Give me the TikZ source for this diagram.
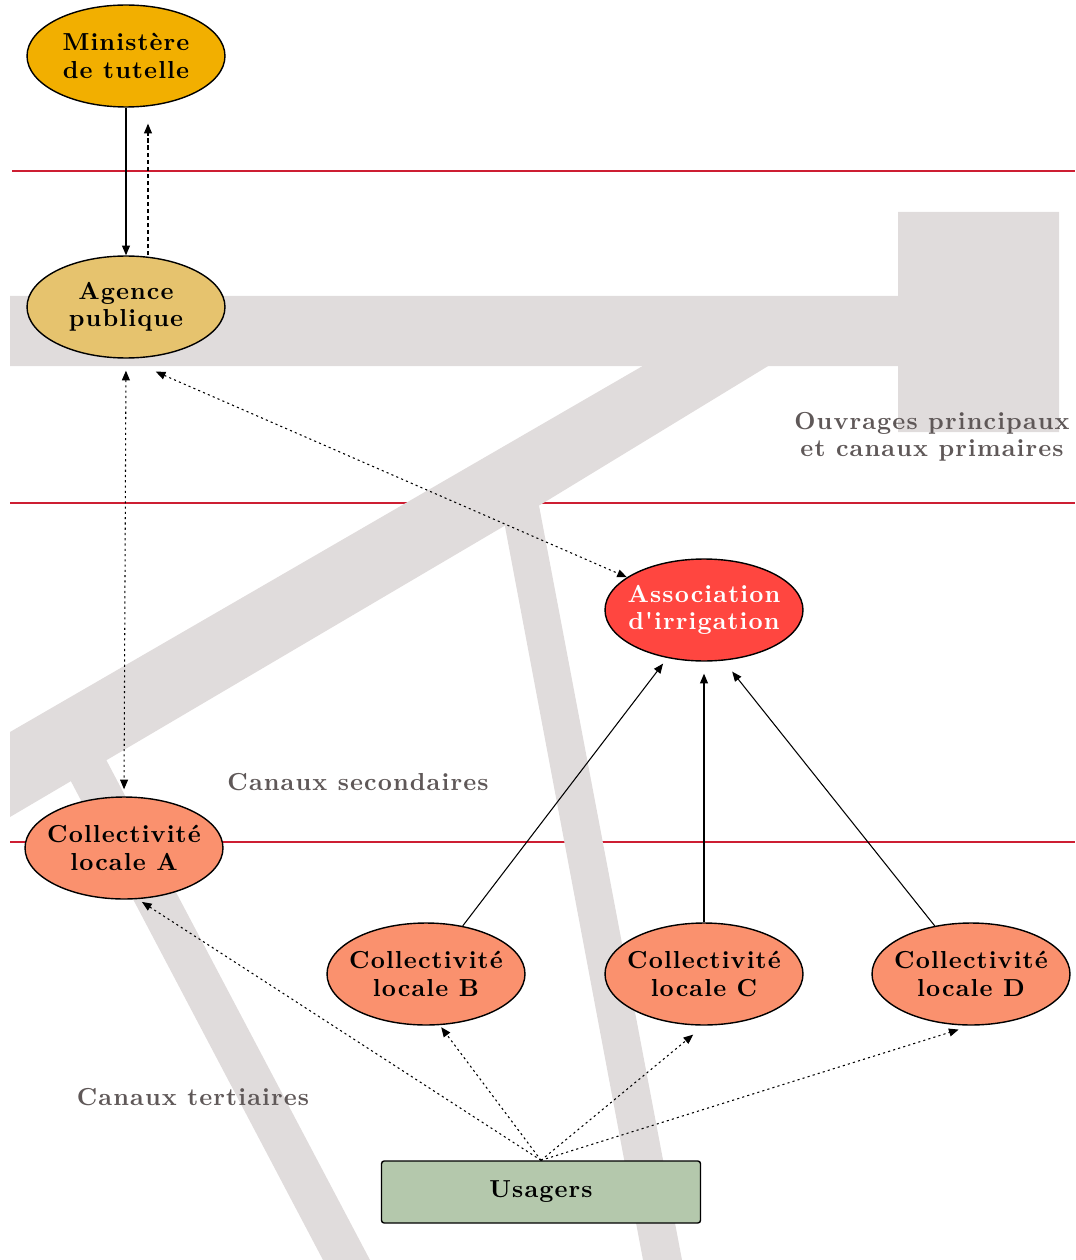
\documentclass[tikz,border=0pt]{standalone}
\usepackage{fontspec}
\usetikzlibrary{arrows.meta,calc,shapes.geometric}
\definecolor{canal}{RGB}{224,220,220}
\definecolor{rouge}{RGB}{205,30,50}
\definecolor{gristexte}{RGB}{95,88,88}
\definecolor{ministere}{RGB}{242,175,0}
\definecolor{agence}{RGB}{230,195,110}
\definecolor{association}{RGB}{255,70,64}
\definecolor{collectivite}{RGB}{250,145,110}
\definecolor{usagers}{RGB}{180,200,172}
\newfontfamily\lettres{lmroman10}[Extension=.otf,UprightFont=*-regular,BoldFont=*-bold,LetterSpace=4.5]
\newcommand{\policeacteur}{\lettres\fontsize{14}{15.5}\selectfont\bfseries}
\begin{document}
\begin{tikzpicture}[x=0.02cm,y=-0.02cm,
		>={Triangle[length=5.5pt,width=4.5pt]},
		acteur/.style={ellipse,draw=black,line width=0.8pt,minimum width=3.96cm,minimum height=2.04cm,inner xsep=-8pt,inner ysep=0pt,align=center,font=\policeacteur},
		lien/.style={line width=0.6pt,->},
		pointille/.style={lien,dash pattern=on 1.2pt off 1.8pt},
		tirets/.style={lien,dash pattern=on 2.5pt off 1.5pt},
		limite/.style={draw=rouge,line width=1pt},
		etiquette/.style={text=gristexte,align=center,font=\policeacteur}]
		
		\useasboundingbox (0,0) rectangle (1075,1260);
		
		% limites entre niveaux
		\draw[limite](12,171)--(1075,171);
		\draw[limite](10,503)--(1075,503);
		\draw[limite](10,842)--(1075,842);
		
		% canaux
		\fill[canal](10,296)--(898,296)--(898,212)--(1059,212)--(1059,432)--(898,432)--(898,366)--(10,366)--cycle;
		\fill[canal](653,360)--(778,360)--(545,502)--(10,817)--(10,732)--cycle;
		\fill[canal](500,500)--(537,495)--(682,1260)--(643,1260)--cycle;
		\fill[canal](65,770)--(101,750)--(370,1260)--(323,1260)--cycle;
		
		\node[etiquette] (ouvrages) at (932,437) {Ouvrages principaux\\et canaux primaires};
		\node[etiquette] (secondaires) at (358,782) {Canaux secondaires};
		\node[etiquette] (tertiaires) at (193,1097) {Canaux tertiaires};
		
		% acteurs
		\node[acteur,fill=ministere] (ministere) at (126,56) {Ministère\\de tutelle};
		\node[acteur,fill=agence] (agence) at (126,307) {Agence\\publique};
		\node[acteur,fill=association,text=white] (asso) at (704,610) {Association\\d'irrigation};
		\node[acteur,fill=collectivite] (collA) at (124,848) {Collectivité\\locale A};
		\node[acteur,fill=collectivite] (collB) at (426,974) {Collectivité\\locale B};
		\node[acteur,fill=collectivite] (collC) at (704,974) {Collectivité\\locale C};
		\node[acteur,fill=collectivite] (collD) at (971,974) {Collectivité\\locale D};
		\node[draw=black,line width=0.8pt,fill=usagers,rounded corners=1.5pt,minimum width=6.38cm,minimum height=1.24cm,font=\policeacteur] (usagers) at (541,1192) {Usagers};
		
		% liens
		\draw[lien](ministere.south)--(agence.north);
		\draw[tirets,shorten >=0.32cm]($(agence.north)+(22,0)$)--($(ministere.south)+(22,0)$);
		\draw[pointille,<->,shorten <=0.24cm,shorten >=0.14cm](agence.south)--(collA.north);
		\draw[pointille,<->,shorten <=0.65cm](agence.south)--(asso.157);
		
		\draw[lien,shorten >=0.14cm](collB)--(asso);
		\draw[lien,shorten >=0.24cm](collC.north)--(asso.south);
		\draw[lien,shorten >=0.28cm](collD.127)--(asso.291);
		
		\draw[pointille,shorten >=0.1cm](usagers.north)--(collA.285);
		\draw[pointille,shorten >=0.05cm](usagers.north)--(collB.285);
		\draw[pointille,shorten >=0.28cm](usagers.north)--(collC.south);
		\draw[pointille,shorten >=0.26cm](usagers.north)--(collD.south);
		
	\end{tikzpicture}
\end{document}
